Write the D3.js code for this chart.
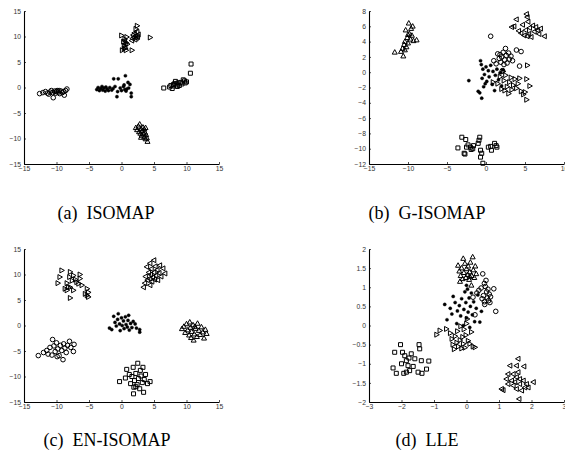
<!DOCTYPE html>
<html>
<head>
<meta charset="utf-8">
<script src="https://cdn.jsdelivr.net/npm/d3@7"></script>
<style>
  body { margin: 0; background: #fff; }
  svg { display: block; }
  .tick text { font-family: "Liberation Sans", Arial, sans-serif; font-size: 6.8px; fill: #333; }
  .caption { font-family: "Liberation Serif", "Times New Roman", serif; font-size: 18px; fill: #000; }
</style>
</head>
<body>
<div id="chart"></div>
<script>
// ---- data ----

// (a) ISOMAP
var isoCircle = [[-12.6,-1.2],[-12.1,-1.0],[-11.7,-0.8],[-11.4,-1.1],[-11.2,-1.3],[-11.0,-0.9],[-10.8,-0.6],[-10.6,-1.0],[-10.5,-2.0],[-10.3,-0.7],[-10.1,-1.1],[-10.0,-0.8],[-9.9,-0.6],[-9.7,-0.9],[-9.6,-0.6],[-9.5,-1.2],[-9.3,-0.7],[-9.1,-1.0],[-8.9,-0.8],[-8.8,-1.5],[-8.6,-0.6],[-8.4,-0.3]];
var isoDot = [[-3.8,-0.4],[-3.6,0.0],[-3.4,-0.6],[-3.2,-0.2],[-3.0,0.2],[-2.9,-0.5],[-2.7,-0.1],[-2.5,-0.7],[-2.4,0.1],[-2.2,-0.3],[-2.0,-0.6],[-1.8,0.0],[-1.5,-0.5],[-1.3,-0.2],[-1.2,1.7],[-1.0,0.2],[-0.7,-1.8],[-0.6,-0.8],[-0.5,1.7],[-0.2,-0.1],[0.0,-0.6],[0.3,0.2],[0.4,0.5],[0.5,-0.4],[0.6,2.3],[0.7,-0.7],[0.8,-0.3],[1.0,1.0],[1.1,-0.1],[1.3,0.6],[1.5,-1.1],[1.5,-1.8]];
var isoRight = [[0.0,10.2],[0.1,7.3],[0.3,9.0],[0.4,8.2],[0.4,7.6],[0.5,9.5],[0.6,7.7],[0.7,7.3],[0.7,8.8],[0.8,9.9],[0.9,8.5],[1.6,7.3],[2.2,11.5],[2.4,12.1],[4.4,9.8]];
var isoLeft = [[0.5,9.2],[0.6,8.5],[1.6,9.2],[1.7,9.6],[1.8,10.3],[1.9,9.9],[2.0,10.7],[2.1,9.4],[2.2,10.1],[2.3,9.7],[2.4,10.9],[2.5,9.9],[2.6,10.4]];
var isoSquare = [[6.5,-0.1],[7.4,0.1],[7.6,0.4],[7.8,-0.2],[8.0,0.3],[8.0,0.6],[8.2,0.8],[8.3,1.2],[8.5,0.5],[8.6,0.2],[8.7,0.9],[8.9,0.4],[9.1,1.0],[9.3,0.7],[9.5,1.5],[9.7,1.3],[9.8,0.9],[10.0,1.1],[10.6,2.8],[10.7,4.6]];
var isoUp = [[2.2,-7.9],[2.4,-8.3],[2.6,-7.6],[2.7,-8.7],[2.8,-7.2],[2.9,-9.0],[3.0,-8.1],[3.0,-9.8],[3.1,-9.4],[3.2,-8.5],[3.3,-7.8],[3.4,-9.1],[3.5,-9.7],[3.5,-8.2],[3.6,-8.8],[3.7,-10.1],[3.7,-7.9],[3.8,-9.3],[3.9,-9.9],[4.0,-10.6]];

// (b) G-ISOMAP
var gisoUp = [[-11.7,2.6],[-10.9,2.7],[-10.7,3.1],[-10.6,2.1],[-10.5,3.6],[-10.4,4.0],[-10.4,2.9],[-10.3,5.5],[-10.2,3.3],[-10.1,4.5],[-10.0,3.8],[-10.0,4.9],[-9.9,6.4],[-9.8,5.0],[-9.7,4.3],[-9.6,5.7],[-9.5,4.8],[-9.4,6.0],[-9.3,4.1],[-8.9,4.2]];
var gisoLeft = [[3.3,5.9],[3.6,6.0],[3.9,6.9],[4.2,5.4],[4.5,5.1],[4.7,6.2],[4.9,4.8],[5.1,5.5],[5.2,7.6],[5.3,7.2],[5.3,4.7],[5.4,6.6],[5.5,5.0],[5.6,5.8],[5.8,4.6],[6.0,6.1],[6.2,5.3],[6.4,5.9],[6.6,5.5],[6.8,5.0],[7.0,5.7],[7.5,4.7]];
var gisoCircle = [[0.6,4.7],[1.0,1.5],[1.3,1.1],[1.5,2.4],[1.7,1.8],[1.8,2.3],[1.9,1.3],[2.0,2.0],[2.1,0.2],[2.2,2.6],[2.3,1.0],[2.4,1.6],[2.5,3.1],[2.6,2.2],[2.7,1.2],[2.9,2.5],[3.0,1.7],[3.2,2.1],[3.4,1.5],[3.9,2.9],[4.3,0.8],[4.5,2.7]];
var gisoDot = [[-2.2,-1.1],[-1.0,-2.5],[-0.8,-2.7],[-0.7,1.5],[-0.6,1.0],[-0.55,-3.4],[-0.5,-0.8],[-0.4,0.4],[-0.3,-1.9],[-0.2,-0.3],[-0.1,-1.5],[0.0,0.7],[0.1,-1.2],[0.3,0.2],[0.4,-0.6],[0.6,0.9],[0.8,-1.6],[0.9,0.1],[1.1,-2.4],[1.2,-0.4],[1.4,0.4],[1.6,-1.0],[1.8,-0.1],[2.0,-1.8],[2.2,0.3]];
var gisoRight = [[0.9,-1.3],[1.5,-1.5],[1.8,-0.6],[2.0,-2.2],[2.2,0.1],[2.3,-1.1],[2.4,-2.4],[2.5,-0.4],[2.7,-1.9],[2.9,-2.8],[3.0,-1.3],[3.2,-0.7],[3.3,-2.3],[3.5,-1.7],[3.7,-0.9],[3.9,-2.1],[4.1,-1.5],[4.3,-0.8],[4.5,-2.5],[4.8,-2.9],[5.0,-2.6],[5.2,-0.9],[5.2,-3.6],[5.3,0.9],[5.6,-1.8]];
var gisoSquare = [[-3.6,-9.9],[-3.1,-8.5],[-2.8,-10.6],[-2.7,-10.7],[-2.6,-8.8],[-2.5,-9.8],[-2.3,-9.5],[-2.0,-9.8],[-1.9,-10.1],[-1.7,-10.0],[-1.6,-9.6],[-1.0,-9.3],[-0.9,-8.9],[-0.8,-8.5],[-0.7,-10.2],[-0.7,-11.1],[-0.55,-10.6],[-0.4,-11.9],[0.3,-9.8],[0.6,-9.7],[0.7,-10.2],[1.1,-9.3],[1.3,-9.6],[1.4,-9.8]];

// (c) EN-ISOMAP
var enRight = [[-9.8,8.3],[-9.5,9.5],[-9.2,10.8],[-8.7,7.2],[-8.4,6.9],[-8.4,8.3],[-8.2,7.5],[-8.0,9.5],[-7.9,10.5],[-7.9,7.5],[-7.9,5.4],[-7.6,8.8],[-7.4,9.8],[-7.4,6.9],[-7.1,9.0],[-6.9,8.5],[-6.6,8.2],[-6.4,10.0],[-6.4,9.2],[-6.1,7.9],[-5.6,6.2],[-5.3,7.2],[-5.3,5.9],[-5.1,6.5],[-5.1,5.6]];
var enLeft = [[3.4,7.5],[3.6,8.3],[3.7,9.6],[3.9,11.5],[4.0,8.9],[4.2,10.4],[4.3,9.2],[4.4,7.9],[4.4,12.2],[4.5,10.0],[4.6,11.1],[4.7,8.6],[4.8,9.5],[5.0,12.8],[5.0,10.4],[5.1,9.0],[5.2,11.6],[5.3,9.8],[5.5,10.9],[5.6,8.9],[5.8,10.3],[5.9,11.8],[6.1,9.6],[6.4,11.2],[6.7,10.2]];
var enDot = [[-1.85,-0.5],[-1.5,-0.8],[-1.2,1.8],[-1.0,0.6],[-0.8,-0.1],[-0.6,1.2],[-0.5,2.3],[-0.3,0.3],[-0.2,-1.0],[0.0,1.5],[0.1,0.0],[0.3,0.9],[0.4,-0.6],[0.6,1.7],[0.7,0.2],[0.9,-0.3],[1.0,1.0],[1.1,2.0],[1.2,-0.9],[1.4,0.4],[1.6,-0.4],[1.8,0.8],[2.1,0.3],[2.3,-0.5],[2.8,-0.8],[2.8,-1.3]];
var enUp = [[9.3,-0.65],[9.6,-0.2],[9.8,-1.4],[10.0,0.3],[10.2,-0.9],[10.4,-1.9],[10.5,0.65],[10.6,-0.4],[10.7,-2.4],[10.8,-1.2],[11.0,0.1],[11.1,-2.9],[11.2,-1.7],[11.3,-0.2],[11.4,-0.6],[11.6,-2.2],[11.7,0.4],[11.9,-1.0],[12.1,-1.8],[12.3,-0.3],[12.5,-1.3],[12.7,-2.5],[12.9,-0.8],[13.1,-1.6]];
var enCircle = [[-12.8,-5.9],[-12.0,-5.3],[-11.5,-4.9],[-11.3,-5.6],[-11.0,-4.3],[-10.7,-5.8],[-10.6,-2.75],[-10.4,-4.0],[-10.2,-5.1],[-10.0,-3.4],[-9.9,-6.1],[-9.8,-4.6],[-9.6,-5.9],[-9.4,-3.9],[-9.2,-4.9],[-9.0,-6.7],[-8.9,-3.6],[-8.7,-4.4],[-8.5,-5.3],[-8.3,-3.9],[-8.0,-3.1],[-7.8,-4.3],[-7.4,-5.1],[-7.3,-3.7]];
var enSquare = [[-0.3,-11.0],[0.6,-10.3],[0.8,-8.6],[1.2,-9.6],[1.4,-11.4],[1.6,-10.0],[1.8,-8.2],[1.85,-13.4],[1.9,-12.1],[2.0,-10.8],[2.2,-9.4],[2.2,-12.0],[2.4,-11.6],[2.5,-7.4],[2.6,-10.4],[2.8,-12.4],[2.9,-8.8],[3.0,-9.9],[3.2,-11.2],[3.3,-8.2],[3.4,-13.1],[3.5,-10.6],[3.7,-9.6],[4.0,-11.4],[4.4,-11.0]];

// (d) LLE
var lleUp = [[-0.26,1.57],[-0.22,1.42],[-0.2,1.15],[-0.18,1.30],[-0.15,1.50],[-0.12,1.22],[-0.10,1.75],[-0.08,1.38],[-0.05,1.62],[-0.02,1.25],[0.00,1.48],[0.03,1.33],[0.05,1.55],[0.08,1.20],[0.10,1.40],[0.10,1.28],[0.12,1.65],[0.15,1.05],[0.16,1.30],[0.19,1.79],[0.21,1.45],[0.24,1.25],[0.27,1.55],[0.3,1.35]];
var lleCircle = [[0.2,0.74],[0.26,0.28],[0.32,0.85],[0.38,0.92],[0.45,0.98],[0.48,0.7],[0.5,1.35],[0.52,0.78],[0.55,0.62],[0.55,1.1],[0.56,0.55],[0.58,1.02],[0.6,1.18],[0.62,0.88],[0.64,0.72],[0.66,0.95],[0.68,0.65],[0.7,0.82],[0.72,0.6],[0.74,0.75],[0.84,0.96],[0.9,0.37]];
var lleDot = [[-0.67,0.55],[-0.6,0.15],[-0.5,0.45],[-0.45,0.3],[-0.41,0.76],[-0.35,0.6],[-0.3,0.05],[-0.28,0.38],[-0.22,0.52],[-0.18,0.25],[-0.15,0.7],[-0.1,0.0],[-0.08,0.42],[-0.05,0.88],[-0.02,0.6],[0.0,0.2],[0.0,1.05],[0.03,0.95],[0.05,0.35],[0.08,0.72],[0.1,-0.05],[0.12,0.5],[0.15,0.85],[0.18,0.28],[0.22,0.62],[0.25,0.1],[0.3,0.45],[0.35,0.8],[0.41,0.09],[0.46,0.37]];
var lleRight = [[-0.92,-0.24],[-0.82,-0.13],[-0.62,-0.09],[-0.5,-0.2],[-0.45,-0.35],[-0.42,-0.5],[-0.38,-0.62],[-0.35,-0.28],[-0.3,-0.45],[-0.28,-0.15],[-0.25,-0.55],[-0.2,-0.38],[-0.18,-0.02],[-0.15,-0.6],[-0.12,-0.3],[-0.1,-0.48],[-0.08,-0.1],[-0.05,-0.58],[-0.02,-0.25],[0.0,0.05],[0.02,0.17],[0.05,-0.4],[0.1,-0.48],[0.15,-0.17],[0.2,-0.55],[0.26,-0.57]];
var lleSquare = [[-2.26,-1.11],[-2.21,-0.70],[-2.16,-1.25],[-2.03,-0.50],[-2.0,-1.0],[-1.97,-0.70],[-1.93,-1.25],[-1.90,-0.79],[-1.85,-0.92],[-1.85,-1.22],[-1.80,-1.05],[-1.77,-0.85],[-1.75,-1.18],[-1.70,-0.74],[-1.64,-1.07],[-1.59,-0.87],[-1.49,-1.22],[-1.46,-0.50],[-1.44,-0.61],[-1.39,-0.92],[-1.37,-1.25],[-1.23,-1.14],[-1.16,-0.93]];
var lleLeft = [[1.08,-1.66],[1.13,-1.69],[1.23,-1.40],[1.28,-1.27],[1.28,-1.53],[1.34,-1.05],[1.39,-1.44],[1.44,-1.27],[1.44,-1.57],[1.49,-1.48],[1.54,-1.05],[1.54,-1.35],[1.54,-1.66],[1.59,-0.87],[1.59,-1.22],[1.62,-1.92],[1.64,-1.40],[1.64,-1.53],[1.70,-1.70],[1.75,-1.44],[1.77,-1.07],[1.80,-1.62],[1.85,-1.53],[1.90,-1.62],[2.06,-1.48]];

// axis ticks
var ticksA = [-15, -10, -5, 0, 5, 10, 15];
var ticksBx = [-15, -10, -5, 0, 5, 10];
var ticksBy = [-12, -10, -8, -6, -4, -2, 0, 2, 4, 6, 8];
var ticksDx = [-3, -2, -1, 0, 1, 2, 3];
var ticksDy = [-2, -1.5, -1, -0.5, 0, 0.5, 1, 1.5, 2];

var width = 565, height = 464;

var svg = d3.select("#chart").append("svg")
  .attr("width", width)
  .attr("height", height);

// marker shapes (MATLAB-ish)
var shapes = {
  circle: "M2.3,0A2.3,2.3 0 1,1 -2.3,0A2.3,2.3 0 1,1 2.3,0Z",
  dot: "M1.6,0A1.6,1.6 0 1,1 -1.6,0A1.6,1.6 0 1,1 1.6,0Z",
  square: "M-2,-2H2V2H-2Z",
  up: "M0,-2.7L2.5,1.8L-2.5,1.8Z",
  right: "M2.7,0L-1.8,-2.5L-1.8,2.5Z",
  left: "M-2.7,0L1.8,-2.5L1.8,2.5Z"
};

var panels = [
  { x: [24, 219], y: [164, 11], dx: [-15, 15], dy: [-15, 15], tx: ticksA, ty: ticksA,
    caption: "(a)", name: "ISOMAP", cx: 106, cy: 219,
    sets: [["circle", isoCircle], ["dot", isoDot], ["right", isoRight], ["left", isoLeft], ["square", isoSquare], ["up", isoUp]] },
  { x: [369, 564], y: [164, 11], dx: [-15, 10], dy: [-12, 8], tx: ticksBx, ty: ticksBy,
    caption: "(b)", name: "G-ISOMAP", cx: 427, cy: 219,
    sets: [["up", gisoUp], ["left", gisoLeft], ["circle", gisoCircle], ["dot", gisoDot], ["right", gisoRight], ["square", gisoSquare]] },
  { x: [24, 219], y: [402, 249], dx: [-15, 15], dy: [-15, 15], tx: ticksA, ty: ticksA,
    caption: "(c)", name: "EN-ISOMAP", cx: 107, cy: 446,
    sets: [["right", enRight], ["left", enLeft], ["dot", enDot], ["up", enUp], ["circle", enCircle], ["square", enSquare]] },
  { x: [369, 564], y: [402, 249], dx: [-3, 3], dy: [-2, 2], tx: ticksDx, ty: ticksDy,
    caption: "(d)", name: "LLE", cx: 427, cy: 446,
    sets: [["up", lleUp], ["circle", lleCircle], ["dot", lleDot], ["right", lleRight], ["square", lleSquare], ["left", lleLeft]] }
];

// tick label like MATLAB: 1, 1.5, -0.5 (with a minus sign)
function fmt(d) {
  return String(d).replace("-", "\u2212");
}

panels.forEach(function(p) {
  var xScale = d3.scaleLinear().domain(p.dx).range(p.x);
  var yScale = d3.scaleLinear().domain(p.dy).range(p.y);

  var g = svg.append("g");

  // points
  p.sets.forEach(function(s) {
    var kind = s[0];
    g.selectAll(null)
      .data(s[1])
      .enter()
      .append("path")
      .attr("d", shapes[kind])
      .attr("transform", function(d) {
        return "translate(" + xScale(d[0]) + "," + yScale(d[1]) + ")";
      })
      .attr("fill", kind === "dot" ? "#000" : "none")
      .attr("stroke", "#000")
      .attr("stroke-width", kind === "dot" ? 0.4 : 1);
  });

  // axes, ticks pointing inward
  var xAxis = d3.axisBottom(xScale).tickValues(p.tx).tickFormat(fmt)
    .tickSizeInner(-2).tickSizeOuter(0).tickPadding(4);
  var yAxis = d3.axisLeft(yScale).tickValues(p.ty).tickFormat(fmt)
    .tickSizeInner(-2).tickSizeOuter(0).tickPadding(3);

  var gx = g.append("g")
    .attr("transform", "translate(0," + p.y[0] + ")")
    .call(xAxis);
  var gy = g.append("g")
    .attr("transform", "translate(" + p.x[0] + ",0)")
    .call(yAxis);

  [gx, gy].forEach(function(a) {
    a.select(".domain").attr("stroke", "#000").attr("stroke-width", 1.1);
    a.selectAll(".tick line").attr("stroke", "#000").attr("stroke-width", 0.7);
    a.attr("font-size", null).attr("font-family", null);
  });
  gx.selectAll(".tick text").attr("dy", "0.5em");

  // caption under the panel
  svg.append("text")
    .attr("class", "caption")
    .attr("x", p.cx)
    .attr("y", p.cy)
    .attr("text-anchor", "middle")
    .text(p.caption + "\u00A0\u00A0" + p.name);
});
</script>
</body>
</html>
